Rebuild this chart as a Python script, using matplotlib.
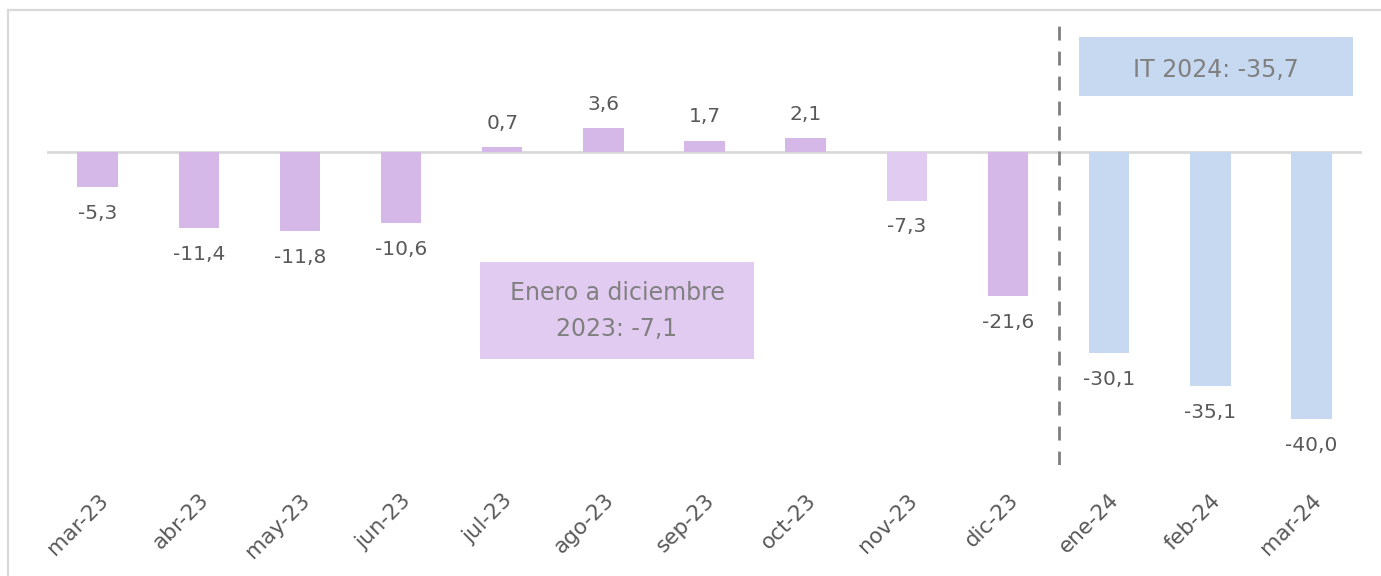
import matplotlib
matplotlib.use("Agg")
import matplotlib.pyplot as plt
from matplotlib.patches import Rectangle

# Data
months = ["mar-23", "abr-23", "may-23", "jun-23", "jul-23", "ago-23", "sep-23",
          "oct-23", "nov-23", "dic-23", "ene-24", "feb-24", "mar-24"]
values = [-5.3, -11.4, -11.8, -10.6, 0.7, 3.6, 1.7, 2.1, -7.3, -21.6, -30.1, -35.1, -40.0]
colors = ["#D5B8E8"] * 8 + ["#E2CBF0", "#D5B8E8"] + ["#C6D9F1"] * 3

box_2023 = "Enero a diciembre\n2023: -7,1"
box_2024 = "IT 2024: -35,7"

plt.rcParams["font.family"] = ["DejaVu Sans"]
W, H = 1381, 576


def fx(px):
    return px / W


def fy(py):
    return 1 - py / H


fig = plt.figure(figsize=(W / 100, H / 100), dpi=100)
ax = fig.add_axes([fx(47), fy(465), 1315 / W, 450 / H])

x = range(len(months))
ax.bar(x, values, width=0.4, color=colors, zorder=2)
ax.axhline(0, color="#D9D9D9", lw=2, zorder=1)
ax.axvline(9.5, color="#7F7F7F", lw=2, ls=(0, (5, 4)), zorder=3)

for i, v in enumerate(values):
    label = f"{v:.1f}".replace(".", ",")
    off = 17 if v > 0 else -19
    ax.annotate(label, (i, v), xytext=(0, off), textcoords="offset points",
                ha="center", va="center", fontsize=14.5, color="#595959")

ax.set_xlim(-0.5, len(months) - 0.5)
ax.set_ylim(-46.9, 20.5)
ax.set_xticks(list(x))
ax.set_xticklabels(months, rotation=45, ha="right", rotation_mode="anchor",
                   fontsize=15.5, color="#595959")
ax.tick_params(axis="x", length=0, pad=18)
ax.set_yticks([])
for s in ax.spines.values():
    s.set_visible(False)

# annotation boxes
fig.patches.append(Rectangle((fx(480), fy(359)), 274 / W, 97 / H,
                             transform=fig.transFigure, fc="#E2CBF0", ec="none"))
fig.text(fx(617), fy(311), box_2023, ha="center", va="center", fontsize=17,
         color="#808080", linespacing=1.6)
fig.patches.append(Rectangle((fx(1079), fy(96)), 274 / W, 59 / H,
                             transform=fig.transFigure, fc="#C6D9F1", ec="none"))
fig.text(fx(1216), fy(70), box_2024, ha="center", va="center",
         fontsize=17, color="#808080")

# light frame around the chart (right and bottom edges fall outside)
fig.patches.append(Rectangle((fx(8), -0.5), 2.0, fy(10) + 0.5,
                             transform=fig.transFigure, fill=False,
                             ec="#D9D9D9", lw=1.6))

fig.savefig("out.png", dpi=100)
